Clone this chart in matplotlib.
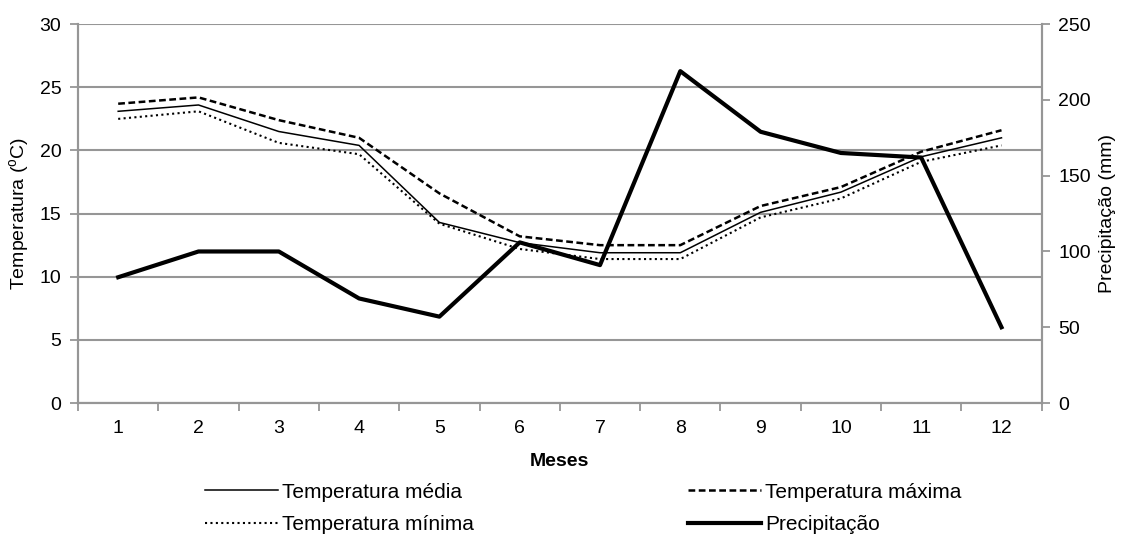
import numpy as np
import matplotlib.pyplot as plt
from matplotlib.ticker import MultipleLocator, FixedLocator

plt.rcParams['font.family'] = ['Liberation Sans', 'DejaVu Sans']

meses = np.arange(1, 13)
temp_media = [23.1, 23.6, 21.5, 20.4, 14.3, 12.7, 11.9, 11.9, 15.1, 16.7, 19.5, 21.0]
temp_max = [23.7, 24.2, 22.4, 21.0, 16.6, 13.2, 12.5, 12.5, 15.6, 17.1, 19.9, 21.6]
temp_min = [22.5, 23.1, 20.6, 19.7, 14.2, 12.2, 11.4, 11.4, 14.7, 16.2, 19.1, 20.4]
precip = [83, 100, 100, 69, 57, 106, 91, 219, 179, 165, 162, 50]

grey = '#969696'
fs = 14
fs_leg = 15

fig = plt.figure(figsize=(11.31, 5.37), dpi=100)
ax = fig.add_axes([0.069, 0.2495, 0.852, 0.7055])
ax2 = ax.twinx()

l1, = ax.plot(meses, temp_media, color='black', lw=1.1, label='Temperatura média')
l2, = ax.plot(meses, temp_max, color='black', lw=1.8, ls=(0, (2.7, 1.4)),
              label='Temperatura máxima')
l3, = ax.plot(meses, temp_min, color='black', lw=1.5, ls=(0, (1.0, 1.6)),
              label='Temperatura mínima')
l4, = ax2.plot(meses, precip, color='black', lw=3.0, label='Precipitação')

ax.set_xlim(0.5, 12.5)
ax.set_ylim(0, 30)
ax2.set_ylim(0, 250)
ax.yaxis.set_major_locator(MultipleLocator(5))
ax2.yaxis.set_major_locator(MultipleLocator(50))
ax.set_xticks(meses)
ax.xaxis.set_minor_locator(FixedLocator(np.arange(0.5, 13, 1)))
ax.tick_params(axis='x', which='major', length=0, pad=12, labelsize=fs)
ax.tick_params(axis='x', which='minor', length=6, width=1.3, color=grey)
ax.tick_params(axis='y', length=6, width=1.3, color=grey, labelsize=fs, pad=6)
ax2.tick_params(axis='y', length=6, width=1.3, color=grey, labelsize=fs, pad=6)

ax.grid(axis='y', color=grey, lw=1.5)
ax.set_axisbelow(True)
for a in (ax, ax2):
    a.spines['top'].set_visible(False)
    for s in ('left', 'right', 'bottom'):
        a.spines[s].set_color(grey)
        a.spines[s].set_linewidth(1.5)

ax.set_ylabel('Temperatura ($\\mathregular{^{o}}$C)', fontsize=fs, labelpad=6)
ax2.set_ylabel('Precipitação (mm)', fontsize=fs, labelpad=6)
ax.set_xlabel('Meses', fontsize=fs, fontweight='bold', labelpad=12)

# ordem das entradas: linha a linha como no original
fig.legend(handles=[l1, l3, l2, l4], loc='upper left',
           bbox_to_anchor=(0.181, 0.101), ncol=2, frameon=False,
           fontsize=fs_leg, handlelength=3.5, handletextpad=0.2,
           columnspacing=10.3, labelspacing=0.65, borderaxespad=0,
           borderpad=0)

fig.savefig('out.png', dpi=100)
